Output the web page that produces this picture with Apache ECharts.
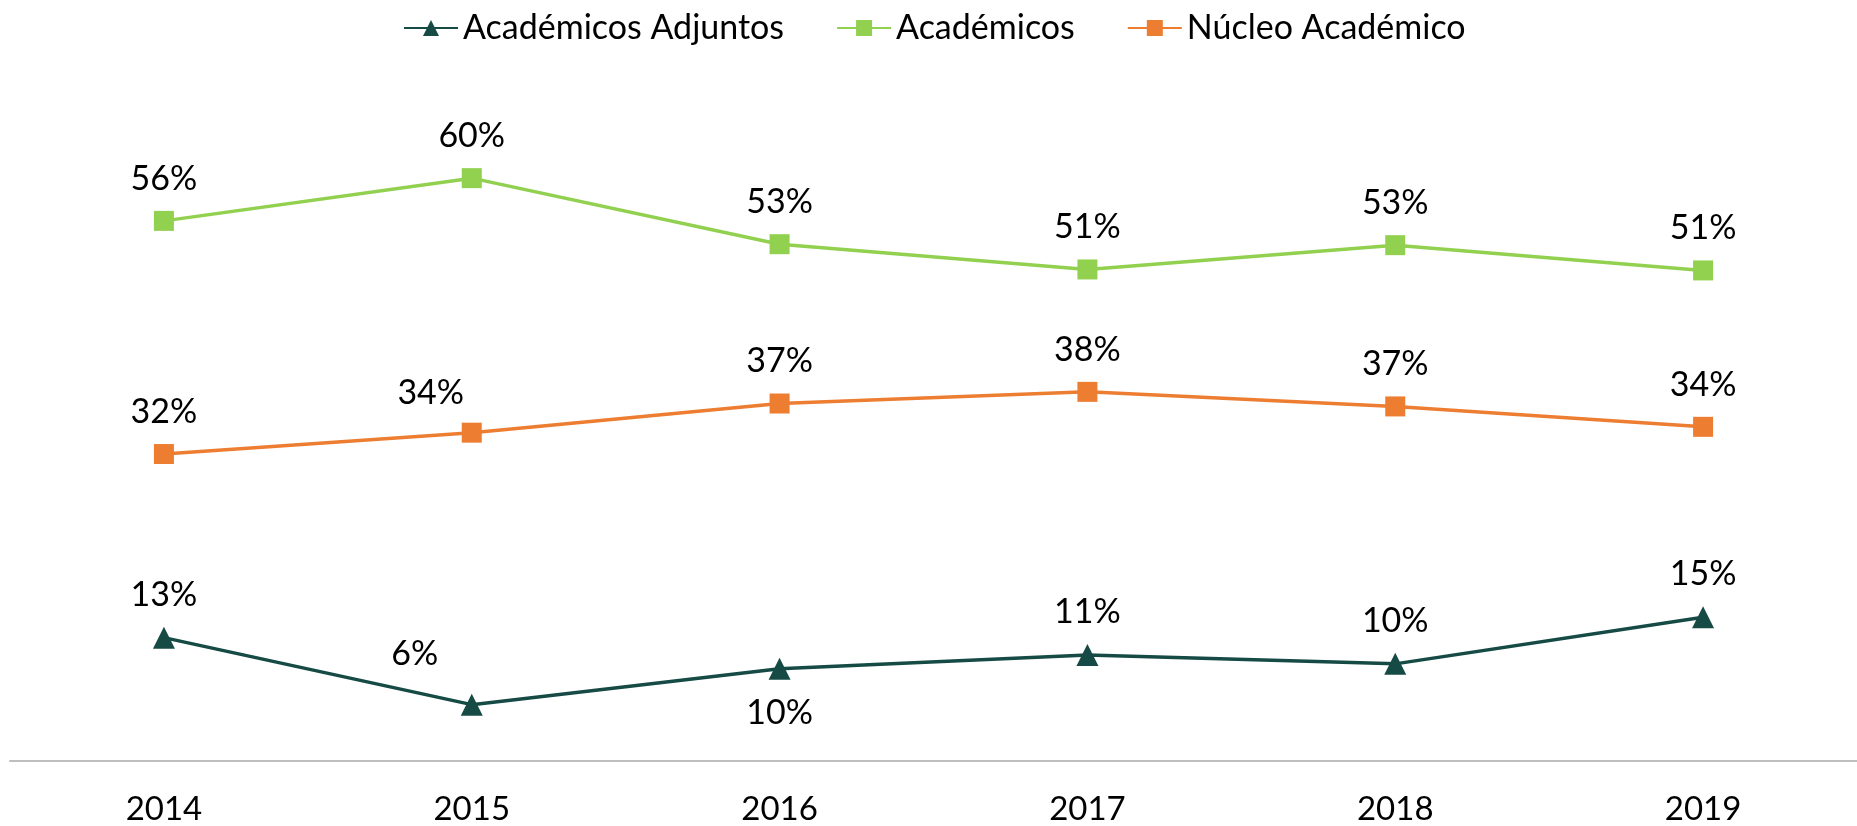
<!DOCTYPE html>
<html>
<head>
<meta charset="utf-8">
<script src="https://cdn.jsdelivr.net/npm/echarts@6/dist/echarts.min.js"></script>
<style>
  html, body { margin: 0; padding: 0; background: #fff; }
  #chart { width: 1857px; height: 826px; }
</style>
</head>
<body>
<div id="chart"></div>
<script>
// categories and values (in %)
const years = ["2014", "2015", "2016", "2017", "2018", "2019"];
const adjuntos = [12.7, 5.8, 9.5, 10.9, 10.0, 14.8];
const academicos = [55.6, 60.0, 53.2, 50.6, 53.1, 50.5];
const nucleo = [31.6, 33.8, 36.8, 38.0, 36.5, 34.4];

const FONT = "Lato";
const labelFmt = p => Math.round(p.value) + "%";

const chart = echarts.init(document.getElementById("chart"), null, { renderer: "canvas" });

function makeSeries(name, values, color, symbol, tweaks) {
  tweaks = tweaks || {};
  return {
    name,
    type: "line",
    // some labels were moved by hand in the original
    data: values.map((v, i) => tweaks[i] ? { value: v, label: tweaks[i] } : v),
    symbol,
    symbolSize: symbol === "triangle" ? 22 : 20,
    lineStyle: { color, width: 3.5 },
    itemStyle: { color },
    label: {
      show: true,
      position: "top",
      distance: 15,
      formatter: labelFmt,
      color: "#000",
      fontFamily: FONT,
      fontSize: 34
    },
    z: 3
  };
}

chart.setOption({
  animation: false,
  backgroundColor: "#fff",
  legend: {
    top: 6,
    left: 398,
    itemWidth: 54,
    itemHeight: 20,
    itemGap: 52,
    textStyle: { fontFamily: FONT, fontSize: 34, color: "#000" },
    data: ["Académicos Adjuntos", "Académicos", "Núcleo Académico"]
  },
  // plot runs a little past the right edge, as in the original
  grid: { left: 10, width: 1855, top: 81, bottom: 64 },
  xAxis: {
    type: "category",
    data: years,
    boundaryGap: true,
    axisLine: { lineStyle: { color: "#BFBFBF", width: 2 } },
    axisTick: { show: false },
    axisLabel: { fontFamily: FONT, fontSize: 33, color: "#000", margin: 32 }
  },
  yAxis: {
    type: "value",
    min: 0,
    max: 70,
    show: false,
    splitLine: { show: false }
  },
  series: [
    makeSeries("Académicos Adjuntos", adjuntos, "#154A45", "triangle", {
      1: { offset: [-57, -8] },
      2: { position: "bottom", distance: 16 }
    }),
    makeSeries("Académicos", academicos, "#92D050", "rect"),
    makeSeries("Núcleo Académico", nucleo, "#ED7D31", "rect", {
      1: { offset: [-41, 2] }
    })
  ]
});
</script>
</body>
</html>
